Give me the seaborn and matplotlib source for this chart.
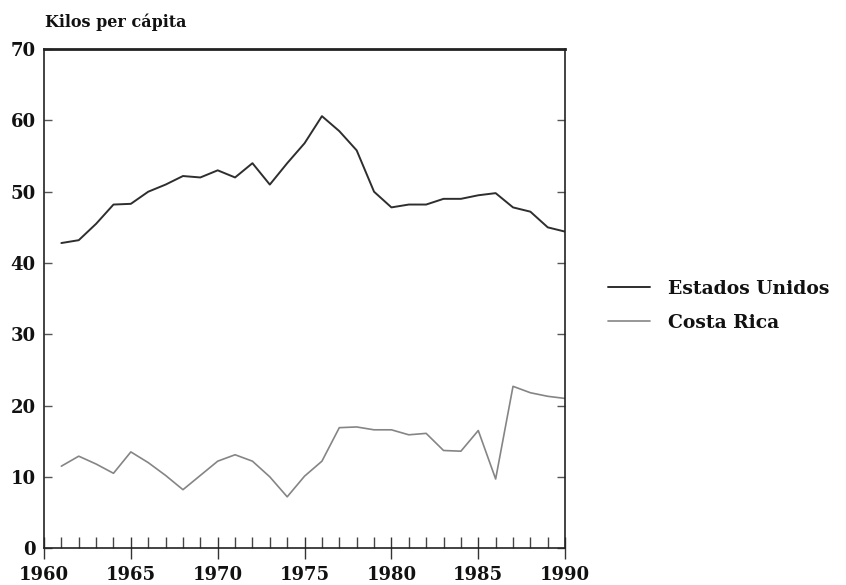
import matplotlib
matplotlib.use("Agg")
import matplotlib.pyplot as plt
import seaborn as sns
import pandas as pd
from matplotlib.ticker import MultipleLocator

years = list(range(1961, 1991))
estados_unidos = [42.8, 43.2, 45.5, 48.2, 48.3, 50.0, 51.0, 52.2, 52.0, 53.0,
                  52.0, 54.0, 51.0, 54.0, 56.8, 60.6, 58.5, 55.8, 50.0, 47.8,
                  48.2, 48.2, 49.0, 49.0, 49.5, 49.8, 47.8, 47.2, 45.0, 44.4]
costa_rica = [11.5, 12.9, 11.8, 10.5, 13.5, 12.0, 10.2, 8.2, 10.2, 12.2,
              13.1, 12.2, 10.0, 7.2, 10.1, 12.2, 16.9, 17.0, 16.6, 16.6,
              15.9, 16.1, 13.7, 13.6, 16.5, 9.7, 22.7, 21.8, 21.3, 21.0]
series_names = ["Estados Unidos", "Costa Rica"]
x_ticks = [1960, 1965, 1970, 1975, 1980, 1985, 1990]
y_ticks = [0, 10, 20, 30, 40, 50, 60, 70]

df = pd.DataFrame({
    "Año": years * 2,
    "Kilos": estados_unidos + costa_rica,
    "Serie": [series_names[0]] * len(years) + [series_names[1]] * len(years),
})

sns.set_theme(style="white")
plt.rcParams["font.family"] = ["DejaVu Serif", "Liberation Serif"]
plt.rcParams["font.weight"] = "bold"

fig = plt.figure(figsize=(8.46, 5.85), dpi=100)
ax = fig.add_axes([0.052, 0.063, 0.616, 0.853])

palette = {series_names[0]: "#2e2e2e", series_names[1]: "#858585"}
sns.lineplot(data=df, x="Año", y="Kilos", hue="Serie", palette=palette,
             ax=ax, linewidth=1.4)
ax.get_lines()[1].set_linewidth(1.2)

ax.set_xlim(1960, 1990)
ax.set_ylim(0, 70)
ax.set_xticks(x_ticks)
ax.set_yticks(y_ticks)
ax.xaxis.set_minor_locator(MultipleLocator(1))
ax.set_xlabel("")
ax.set_ylabel("")

ax.tick_params(axis="x", which="major", direction="inout", length=16, width=1.0,
               color="#333333", labelsize=13, pad=5, bottom=True)
ax.tick_params(axis="x", which="minor", direction="in", length=8, width=1.0,
               color="#444444", bottom=True)
ax.tick_params(axis="y", which="major", direction="in", length=6, width=1.0,
               color="#555555", labelsize=13, left=True, right=True, pad=6)
for lbl in ax.get_xticklabels() + ax.get_yticklabels():
    lbl.set_fontweight("bold")
    lbl.set_color("#111111")

for name, sp in ax.spines.items():
    sp.set_visible(True)
    sp.set_color("#222222")
    sp.set_linewidth(1.2)
ax.spines["top"].set_linewidth(2.0)

sns.move_legend(ax, "center left", bbox_to_anchor=(1.083, 0.486), frameon=False,
                title=None, fontsize=13.5, handlelength=2.2, handletextpad=1.0,
                labelspacing=0.85, borderaxespad=0, borderpad=0)
leg = ax.get_legend()
for t in leg.get_texts():
    t.set_fontweight("bold")
    t.set_color("#111111")
leg.get_lines()[0].set_linewidth(1.4)
leg.get_lines()[1].set_linewidth(1.2)

fig.text(0.053, 0.962, "Kilos per cápita", fontsize=11.5, fontweight="bold",
         ha="left", va="center", color="#111111")

fig.savefig("out.png", dpi=100)
